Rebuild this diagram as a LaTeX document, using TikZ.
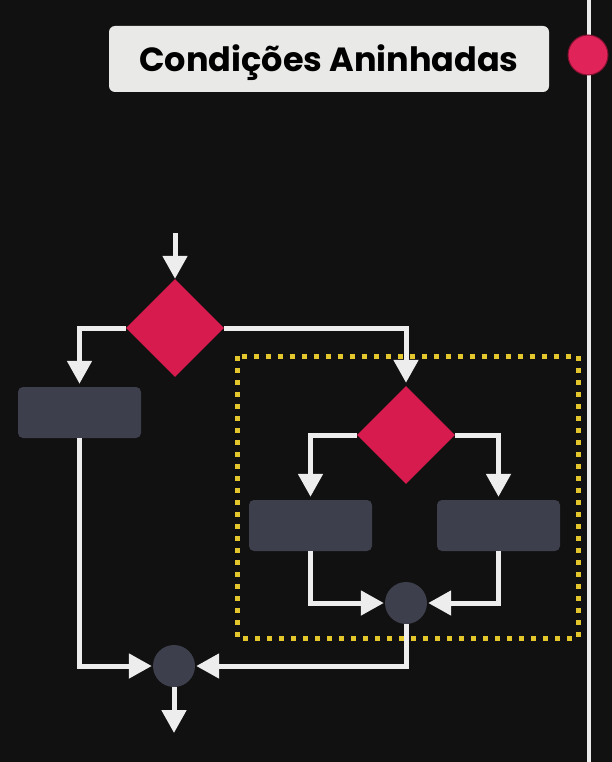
\documentclass[tikz,border=0pt]{standalone}
\usepackage{fontspec}
\setmainfont{Poppins}
\usepackage{xcolor}
\usetikzlibrary{positioning, arrows.meta, shapes.geometric}

\definecolor{bgdark}{HTML}{111111}
\definecolor{cardgray}{HTML}{E9E9E7}
\definecolor{crimson}{HTML}{D81B4F}
\definecolor{slatebox}{HTML}{3E3F4D}
\definecolor{framegold}{HTML}{E3C72C}
\definecolor{dotred}{HTML}{E0245A}

\begin{document}
\begin{tikzpicture}[
    x=1pt, y=-1pt,
    >={Triangle[length=23pt, width=24pt]},
    decision/.style={diamond, aspect=1, minimum width=98pt, minimum height=98pt, inner sep=0pt, fill=crimson},
    action/.style={rectangle, rounded corners=5pt, minimum width=123pt, minimum height=51pt, fill=slatebox},
    merge/.style={circle, minimum size=42pt, inner sep=0pt, fill=slatebox},
    arrow/.style={->, line width=5pt, draw=white!93!black, color=white!93!black, shorten >=3pt},
    title/.style={rectangle, rounded corners=6pt, minimum width=440pt, minimum height=66pt, fill=cardgray}
]
% Background
\fill[bgdark] (0,0) rectangle (612,762);
\useasboundingbox (0,0) rectangle (612,762);
\draw[line width=0.6pt, green!40!black!70] (586.8,0) -- (586.8,762);
\draw[line width=4pt, white!92!black] (589.3,0) -- (589.3,762);

% Title
\node[title] (head) at (329,59) {};
\node[anchor=base, font=\bfseries\fontsize{33.5}{38}\selectfont] (headtext) at (329,72) {Condições Aninhadas};
\node[circle, minimum size=40pt, inner sep=0pt, fill=dotred, draw=crimson!60!black, line width=1pt] (dot) at (588,55) {};

% Nested frame
\draw[framegold, line width=5pt, dash pattern=on 5pt off 7pt] (237,356) rectangle (578,638);

% Nodes
\coordinate (in) at (175,233);
\node[decision] (outer) at (175,328) {};
\node[action] (elseact) at (79.5,412.5) {};
\node[decision] (inner) at (406,435) {};
\node[action] (thenA) at (310.5,525.5) {};
\node[action] (thenB) at (498.5,525.5) {};
\node[merge] (joinin) at (406,603) {};
\node[merge] (joinout) at (174,666) {};
\coordinate (out) at (174,733);

% Edges
\draw[arrow, shorten >=0pt] (in) -- (outer.north);
\draw[arrow] (outer.west) -| (elseact.north);
\draw[arrow] (outer.east) -| (inner.north);
\draw[arrow] (inner.west) -| (thenA.north);
\draw[arrow] (inner.east) -| (thenB.north);
\draw[arrow, shorten >=1pt] (thenA.south) |- (joinin.west);
\draw[arrow, shorten >=1pt] (thenB.south) |- (joinin.east);
\draw[arrow, shorten >=1pt] (elseact.south) |- (joinout.west);
\draw[arrow, shorten >=1pt] (joinin.south) |- (joinout.east);
\draw[arrow, shorten >=0pt] (joinout.south) -- (out);
\end{tikzpicture}
\end{document}
